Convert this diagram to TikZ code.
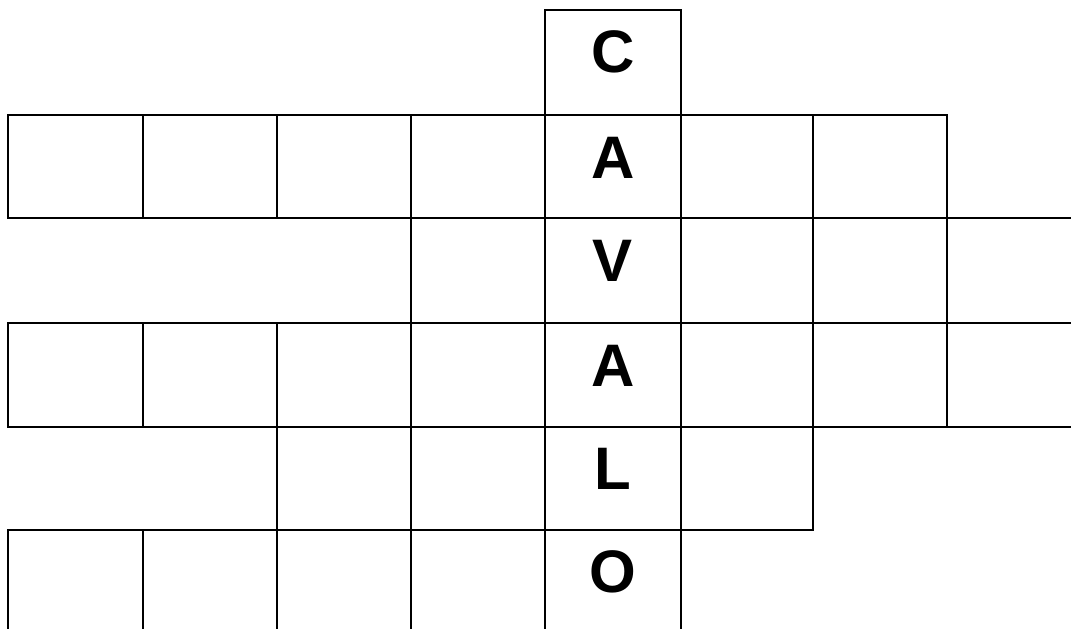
\documentclass[tikz,border=0pt]{standalone}
\usepackage{fontspec}
\setmainfont{Liberation Sans}
\begin{document}
\begin{tikzpicture}[x=1pt,y=-1pt,
  gridline/.style={draw=black,line width=1.9pt},
  letter/.style={font=\bfseries\fontsize{60}{60}\selectfont,anchor=base,inner sep=0pt}]
\useasboundingbox (0,0) rectangle (1071,629);
\clip (0,0) rectangle (1071,629);
\fill[white] (0,0) rectangle (1071,629);
\def\cx{{8,143,277,411,545,681,813,947,1081}}
\def\ry{{10,115,218,323,427,530,634}}
% row / first column / last column
\foreach \r/\a/\b in {0/4/4,1/0/6,2/3/7,3/0/7,4/2/5,5/0/4}{
  \foreach \c in {\a,...,\b}{
    \pgfmathsetmacro\xa{\cx[\c]}
    \pgfmathsetmacro\xb{\cx[\c+1]}
    \pgfmathsetmacro\ya{\ry[\r]}
    \pgfmathsetmacro\yb{\ry[\r+1]}
    \draw[gridline] (\xa,\ya) rectangle (\xb,\yb);
  }
}
\node[letter] (l0) at (613,72) {C};
\node[letter] (l1) at (613,178) {A};
\node[letter] (l2) at (613,281) {V};
\node[letter] (l3) at (613,386) {A};
\node[letter] (l4) at (613,489) {L};
\node[letter] (l5) at (613,592) {O};
\end{tikzpicture}
\end{document}
